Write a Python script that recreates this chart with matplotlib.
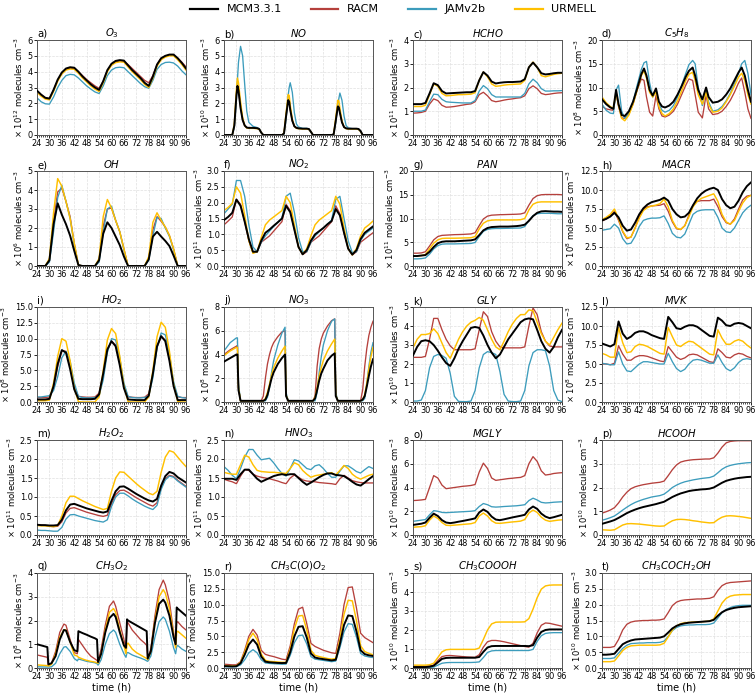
import numpy as np
import matplotlib
matplotlib.use("Agg")
import matplotlib.pyplot as plt
from matplotlib.ticker import MultipleLocator
from matplotlib.lines import Line2D

# ---------------- time axes ----------------
t2 = list(range(24, 97, 2))
t_NO = [24, 28, 29, 30, 30.5, 31, 32, 33, 34, 35, 36, 38, 40, 41, 42, 43,
        52, 53, 54, 55, 55.5, 56, 57, 58, 59, 60, 62, 64, 65, 66, 67,
        76, 77, 78, 79, 79.5, 80, 81, 82, 83, 84, 86, 88, 89, 90, 91, 96]
t_C5H8 = [24, 26, 28, 29.5, 30.8, 32, 33.5, 35, 37, 39, 41, 43, 44.3, 45.5, 47,
          48.5, 50.1, 51.5, 53, 54.5, 56.5, 58.5, 60.5, 62.5, 64.5, 66, 67.8, 69,
          70.5, 72.5, 74.3, 75.5, 77.5, 80, 82, 84, 86, 88, 90, 91.5, 93, 94.5, 96]
t_NO3 = [24, 27, 30, 30.5, 31, 32, 42, 43, 44, 45, 46, 47, 48, 50, 52, 53.5, 54, 55,
         66, 67, 68, 69, 70, 71, 72, 74, 76, 77.5, 78, 79, 90, 91, 92, 93, 94, 95, 96]
t_CH3O2 = [24, 29, 29.5, 31, 33, 35, 37, 38, 40, 42, 43.5, 44, 46, 48, 50, 52, 53, 53.5,
           55, 57, 59, 61, 62, 64, 66, 67, 67.5, 68, 70, 72, 74, 76, 77, 77.5, 79, 81,
           83, 85, 86, 88, 90, 91, 91.5, 92, 94, 96]

models = ["MCM3.3.1", "RACM", "JAMv2b", "URMELL"]
colors = ["#000000", "#b5403c", "#3c9cbc", "#ffc000"]

# ---------------- a) O3 (1e12) ----------------
O3_MCM = [2.8, 2.55, 2.35, 2.3, 2.85, 3.5, 3.95, 4.2, 4.28, 4.25, 4.0, 3.7,
          3.45, 3.2, 3.0, 2.85, 3.4, 4.1, 4.5, 4.68, 4.73, 4.7, 4.4, 4.1,
          3.85, 3.6, 3.3, 3.1, 3.7, 4.45, 4.85, 5.0, 5.08, 5.08, 4.85, 4.55, 4.2]
O3_RACM = [2.8, 2.55, 2.35, 2.3, 2.85, 3.45, 3.9, 4.15, 4.22, 4.2, 4.0, 3.75,
           3.5, 3.3, 3.1, 2.95, 3.4, 4.05, 4.45, 4.62, 4.68, 4.65, 4.45, 4.2,
           3.95, 3.7, 3.45, 3.3, 3.75, 4.45, 4.85, 4.98, 5.05, 5.05, 4.85, 4.6, 4.3]
O3_JAM = [2.35, 2.1, 1.97, 1.95, 2.4, 3.0, 3.45, 3.75, 3.83, 3.8, 3.6, 3.35,
          3.1, 2.9, 2.72, 2.62, 3.1, 3.75, 4.1, 4.25, 4.28, 4.25, 4.0, 3.75,
          3.5, 3.25, 3.05, 2.95, 3.45, 4.15, 4.45, 4.58, 4.6, 4.55, 4.35, 4.05, 3.8]
O3_URM = [2.7, 2.45, 2.27, 2.22, 2.75, 3.4, 3.85, 4.1, 4.17, 4.15, 3.9, 3.6,
          3.35, 3.1, 2.9, 2.75, 3.3, 4.0, 4.4, 4.57, 4.62, 4.6, 4.3, 4.0,
          3.75, 3.5, 3.2, 3.0, 3.6, 4.35, 4.75, 4.92, 5.0, 5.0, 4.75, 4.45, 4.1]

# ---------------- b) NO (1e10) ----------------
NO_MCM = [0, 0, 0.6, 2.5, 3.1, 2.8, 1.7, 0.95, 0.6, 0.47, 0.45, 0.45, 0.43, 0.38, 0.15, 0,
          0, 0.1, 1.2, 2.2, 2.1, 1.6, 0.9, 0.55, 0.45, 0.42, 0.4, 0.4, 0.38, 0.2, 0,
          0, 0.05, 0.9, 1.8, 1.75, 1.4, 0.8, 0.5, 0.42, 0.4, 0.4, 0.4, 0.38, 0.25, 0, 0]
NO_RACM = [0, 0, 0.55, 2.5, 3.15, 2.85, 1.75, 0.95, 0.6, 0.47, 0.45, 0.45, 0.43, 0.38, 0.15, 0,
           0, 0.1, 1.2, 2.25, 2.15, 1.6, 0.9, 0.55, 0.45, 0.42, 0.4, 0.4, 0.38, 0.2, 0,
           0, 0.05, 0.9, 1.85, 1.8, 1.45, 0.8, 0.5, 0.42, 0.4, 0.4, 0.4, 0.38, 0.25, 0, 0]
NO_JAM = [0, 0, 0.5, 2.2, 3.5, 4.6, 5.6, 5.0, 3.2, 1.5, 0.8, 0.55, 0.47, 0.4, 0.15, 0,
          0, 0.05, 1.0, 2.5, 3.0, 3.3, 2.7, 1.4, 0.7, 0.5, 0.42, 0.42, 0.38, 0.2, 0,
          0, 0.03, 0.8, 1.9, 2.3, 2.65, 2.2, 1.2, 0.6, 0.45, 0.4, 0.4, 0.38, 0.25, 0, 0]
NO_URM = [0, 0, 0.7, 2.9, 3.6, 3.3, 2.1, 1.1, 0.6, 0.45, 0.42, 0.42, 0.4, 0.36, 0.15, 0,
          0, 0.1, 1.4, 2.55, 2.5, 1.9, 1.0, 0.55, 0.42, 0.4, 0.38, 0.38, 0.35, 0.2, 0,
          0, 0.05, 1.1, 2.2, 2.15, 1.7, 0.9, 0.5, 0.4, 0.38, 0.38, 0.38, 0.35, 0.22, 0, 0]

# ---------------- c) HCHO (1e11) ----------------
HCHO_MCM = [1.3, 1.3, 1.3, 1.35, 1.75, 2.18, 2.1, 1.85, 1.75, 1.76, 1.77, 1.78,
            1.79, 1.8, 1.8, 1.85, 2.3, 2.65, 2.5, 2.25, 2.17, 2.2, 2.22, 2.23,
            2.23, 2.24, 2.25, 2.35, 2.85, 3.05, 2.85, 2.6, 2.55, 2.57, 2.6, 2.62, 2.62]
HCHO_RACM = [0.92, 0.93, 0.95, 1.0, 1.3, 1.52, 1.45, 1.25, 1.17, 1.18, 1.2, 1.23,
             1.26, 1.29, 1.31, 1.4, 1.7, 1.8, 1.65, 1.45, 1.4, 1.43, 1.47, 1.5,
             1.52, 1.55, 1.57, 1.65, 1.95, 2.07, 1.95, 1.75, 1.7, 1.72, 1.75, 1.77, 1.78]
HCHO_JAM = [1.0, 1.0, 1.0, 1.05, 1.4, 1.72, 1.7, 1.5, 1.4, 1.38, 1.37, 1.36,
            1.35, 1.35, 1.35, 1.45, 1.85, 2.08, 1.95, 1.7, 1.6, 1.6, 1.6, 1.6,
            1.6, 1.6, 1.6, 1.75, 2.15, 2.35, 2.2, 1.95, 1.85, 1.85, 1.86, 1.86, 1.87]
HCHO_URM = [1.2, 1.2, 1.2, 1.25, 1.7, 2.15, 2.05, 1.75, 1.65, 1.66, 1.68, 1.7,
            1.7, 1.71, 1.72, 1.78, 2.3, 2.65, 2.45, 2.15, 2.05, 2.07, 2.1, 2.12,
            2.13, 2.14, 2.15, 2.3, 2.85, 3.07, 2.85, 2.5, 2.45, 2.5, 2.55, 2.58, 2.6]

# ---------------- d) C5H8 (1e8) ----------------
C5H8_MCM = [7.5, 6.5, 5.8, 5.5, 9.5, 6.5, 4.2, 4.0, 5.0, 7.0, 9.8, 12.8, 14.0, 12.5, 9.5,
            8.3, 9.8, 7.0, 6.0, 5.8, 6.2, 7.0, 8.5, 10.3, 12.3, 13.5, 14.2, 12.5, 9.5, 7.5,
            10.0, 8.0, 6.8, 7.0, 7.5, 8.5, 9.8, 11.5, 13.2, 14.2, 12.5, 9.5, 7.0]
C5H8_RACM = [6.0, 5.5, 5.3, 5.2, 9.0, 6.0, 3.6, 3.5, 4.5, 6.5, 9.5, 11.8, 11.5, 8.0, 4.8,
             4.0, 8.3, 5.5, 4.0, 3.8, 4.2, 5.0, 6.5, 8.5, 10.5, 11.8, 11.5, 8.5, 4.8, 3.6,
             8.5, 5.5, 4.3, 4.5, 5.0, 6.0, 7.3, 9.0, 11.0, 12.0, 9.0, 5.5, 3.5]
C5H8_JAM = [6.5, 5.2, 4.6, 4.5, 9.5, 10.5, 5.0, 3.5, 4.5, 7.0, 10.5, 13.8, 15.2, 15.5, 11.0,
            8.0, 9.6, 6.5, 5.2, 4.8, 5.2, 6.2, 8.0, 10.5, 13.0, 14.8, 15.7, 15.0, 10.0, 6.2,
            9.4, 7.0, 5.0, 5.3, 6.0, 7.2, 8.8, 10.8, 13.0, 15.0, 15.7, 13.0, 8.5]
C5H8_URM = [8.0, 6.8, 6.0, 5.6, 9.0, 6.2, 3.5, 3.0, 4.2, 6.5, 9.5, 12.5, 13.5, 12.0, 9.0,
            8.0, 9.0, 6.0, 4.5, 4.0, 4.5, 5.5, 7.2, 9.3, 11.5, 12.8, 13.2, 11.5, 8.5, 6.5,
            9.0, 6.5, 4.8, 5.0, 5.7, 7.0, 8.5, 10.3, 12.2, 13.0, 11.5, 8.5, 6.5]

# ---------------- e) OH (1e6) ----------------
OH_MCM = [0, 0, 0, 0.3, 2.2, 3.3, 2.7, 2.2, 1.6, 0.8, 0.05, 0,
          0, 0, 0, 0.3, 1.7, 2.3, 2.0, 1.55, 1.1, 0.5, 0, 0,
          0, 0, 0, 0.35, 1.55, 1.8, 1.55, 1.32, 1.05, 0.55, 0, 0, 0]
OH_RACM = [0, 0, 0, 0.3, 2.3, 3.9, 4.1, 3.4, 2.6, 1.2, 0.05, 0,
           0, 0, 0, 0.3, 2.1, 3.0, 3.05, 2.4, 1.8, 0.9, 0, 0,
           0, 0, 0, 0.4, 1.9, 2.6, 2.35, 2.05, 1.6, 0.9, 0, 0, 0]
OH_JAM = [0, 0, 0, 0.2, 1.8, 3.6, 4.25, 3.4, 2.5, 1.1, 0.05, 0,
          0, 0, 0, 0.2, 1.8, 3.0, 3.15, 2.4, 1.8, 0.85, 0, 0,
          0, 0, 0, 0.3, 1.6, 2.55, 2.5, 2.0, 1.55, 0.85, 0, 0, 0]
OH_URM = [0, 0, 0, 0.4, 2.8, 4.6, 4.2, 3.4, 2.5, 1.2, 0.05, 0,
          0, 0, 0, 0.4, 2.6, 3.5, 3.05, 2.4, 1.8, 0.9, 0, 0,
          0, 0, 0, 0.5, 2.3, 2.8, 2.4, 2.05, 1.6, 0.9, 0, 0, 0]

# ---------------- f) NO2 (1e11) ----------------
NO2_MCM = [1.45, 1.55, 1.68, 2.1, 1.9, 1.4, 0.85, 0.45, 0.45, 0.8, 1.05, 1.15,
           1.27, 1.38, 1.5, 1.9, 1.7, 1.15, 0.6, 0.37, 0.5, 0.8, 1.0, 1.1,
           1.2, 1.32, 1.42, 1.8, 1.6, 1.05, 0.55, 0.36, 0.5, 0.85, 1.05, 1.15, 1.25]
NO2_RACM = [1.3, 1.42, 1.55, 2.1, 1.95, 1.4, 0.8, 0.42, 0.45, 0.75, 0.85, 0.95,
            1.1, 1.25, 1.4, 1.95, 1.75, 1.15, 0.6, 0.36, 0.45, 0.75, 0.85, 0.95,
            1.1, 1.25, 1.4, 1.9, 1.65, 1.05, 0.55, 0.35, 0.45, 0.75, 0.85, 0.95, 1.05]
NO2_JAM = [1.65, 1.8, 1.95, 2.7, 2.7, 2.2, 1.3, 0.6, 0.45, 0.75, 0.95, 1.1,
           1.25, 1.38, 1.5, 2.2, 2.3, 1.7, 0.9, 0.45, 0.45, 0.75, 0.95, 1.08,
           1.2, 1.32, 1.45, 2.1, 2.2, 1.5, 0.8, 0.42, 0.45, 0.8, 1.0, 1.1, 1.2]
NO2_URM = [1.75, 1.85, 1.98, 2.5, 2.3, 1.6, 0.8, 0.4, 0.45, 0.9, 1.3, 1.45,
           1.55, 1.65, 1.75, 2.2, 2.0, 1.3, 0.6, 0.37, 0.55, 0.95, 1.3, 1.45,
           1.55, 1.65, 1.75, 2.2, 1.95, 1.2, 0.55, 0.35, 0.55, 0.95, 1.2, 1.3, 1.42]

# ---------------- g) PAN (1e11) ----------------
PAN_MCM = [2.1, 2.1, 2.2, 2.3, 3.0, 4.0, 4.8, 5.1, 5.2, 5.2, 5.2, 5.25,
           5.3, 5.35, 5.4, 5.6, 6.5, 7.5, 8.0, 8.2, 8.25, 8.3, 8.3, 8.3,
           8.35, 8.4, 8.5, 8.7, 9.5, 10.5, 11.2, 11.5, 11.55, 11.5, 11.45, 11.45, 11.4]
PAN_RACM = [2.7, 2.7, 2.75, 3.0, 4.2, 5.5, 6.2, 6.45, 6.5, 6.55, 6.6, 6.62,
            6.65, 6.7, 6.75, 7.0, 8.5, 9.9, 10.5, 10.7, 10.75, 10.8, 10.82, 10.85,
            10.87, 10.9, 10.95, 11.2, 12.8, 14.2, 14.8, 15.0, 15.05, 15.05, 15.05, 15.05, 15.0]
PAN_JAM = [1.5, 1.5, 1.55, 1.7, 2.5, 3.6, 4.3, 4.6, 4.65, 4.65, 4.65, 4.68,
           4.7, 4.72, 4.75, 4.95, 6.2, 7.3, 7.7, 7.85, 7.9, 7.9, 7.92, 7.94,
           7.96, 7.98, 8.0, 8.3, 9.6, 10.6, 11.0, 11.1, 11.1, 11.1, 11.05, 11.0, 11.0]
PAN_URM = [2.1, 2.1, 2.2, 2.4, 3.6, 4.8, 5.5, 5.8, 5.85, 5.85, 5.85, 5.87,
           5.9, 5.92, 5.95, 6.2, 7.8, 9.0, 9.5, 9.65, 9.7, 9.7, 9.7, 9.7,
           9.7, 9.7, 9.75, 10.0, 11.8, 13.0, 13.4, 13.5, 13.5, 13.5, 13.5, 13.5, 13.5]

# ---------------- h) MACR (1e8) ----------------
MACR_MCM = [6.0, 6.2, 6.5, 7.0, 6.4, 5.3, 4.65, 4.8, 5.7, 6.8, 7.6, 8.1,
            8.4, 8.55, 8.7, 9.0, 8.6, 7.5, 6.8, 6.4, 6.5, 7.0, 8.0, 8.9,
            9.5, 9.9, 10.15, 10.3, 10.0, 8.8, 8.0, 7.6, 7.8, 8.6, 9.7, 10.5, 11.0]
MACR_RACM = [5.9, 6.2, 6.6, 7.2, 6.0, 4.5, 3.6, 3.8, 5.0, 6.5, 7.5, 7.8,
             7.9, 7.95, 8.0, 8.2, 7.2, 5.8, 4.9, 4.8, 5.3, 6.7, 8.0, 8.5,
             8.6, 8.6, 8.6, 8.8, 7.8, 6.5, 5.7, 5.5, 6.2, 7.5, 8.7, 9.2, 9.3]
MACR_JAM = [4.7, 4.8, 4.9, 5.5, 5.0, 3.6, 2.9, 3.0, 3.9, 5.2, 6.0, 6.2,
            6.3, 6.3, 6.35, 6.6, 5.6, 4.3, 3.8, 3.7, 4.2, 5.5, 6.8, 7.2,
            7.35, 7.4, 7.4, 7.4, 6.4, 5.0, 4.5, 4.4, 5.0, 6.0, 7.0, 7.6, 8.0]
MACR_URM = [6.1, 6.4, 6.8, 7.5, 6.2, 4.6, 3.7, 3.8, 5.0, 6.3, 7.3, 7.7,
            7.9, 8.0, 8.2, 8.8, 7.8, 6.0, 5.0, 4.8, 5.3, 6.5, 7.8, 8.5,
            8.9, 9.1, 9.3, 9.5, 8.5, 6.8, 5.8, 5.5, 6.0, 7.2, 8.3, 9.0, 9.3]

# ---------------- i) HO2 (1e8) ----------------
HO2_MCM = [0.4, 0.4, 0.4, 0.5, 2.5, 6.0, 8.2, 7.8, 5.2, 2.0, 0.5, 0.45,
           0.45, 0.45, 0.5, 1.2, 4.5, 8.3, 9.6, 8.8, 5.8, 2.2, 0.4, 0.35,
           0.3, 0.3, 0.3, 1.0, 4.5, 8.8, 10.4, 9.6, 6.5, 2.5, 0.3, 0.3, 0.3]
HO2_RACM = [0.7, 0.7, 0.7, 0.8, 2.2, 5.6, 8.1, 8.0, 5.6, 2.4, 0.9, 0.8,
            0.75, 0.75, 0.8, 1.4, 4.3, 8.2, 9.6, 9.0, 6.2, 2.6, 0.8, 0.75,
            0.7, 0.7, 0.75, 1.3, 4.4, 8.7, 10.3, 9.8, 6.8, 2.8, 0.8, 0.7, 0.7]
HO2_JAM = [0.8, 0.8, 0.9, 1.0, 1.8, 4.0, 7.0, 8.0, 6.5, 3.0, 0.9, 0.7,
           0.65, 0.65, 0.7, 1.0, 3.5, 7.8, 10.0, 9.8, 7.0, 3.0, 0.9, 0.7,
           0.65, 0.65, 0.7, 1.0, 3.8, 8.5, 10.9, 10.6, 7.6, 3.2, 0.9, 0.7, 0.6]
HO2_URM = [0.2, 0.2, 0.2, 0.3, 3.0, 7.2, 10.0, 9.6, 6.5, 2.2, 0.05, 0,
           0, 0, 0, 0.8, 5.0, 9.8, 11.6, 10.8, 7.2, 2.5, 0.05, 0,
           0, 0, 0, 0.8, 5.0, 10.3, 12.6, 11.8, 8.0, 2.8, 0.05, 0, 0]

# ---------------- j) NO3 (1e8) ----------------
NO3_MCM = [3.4, 3.7, 4.0, 4.0, 1.0, 0.1, 0.1, 0.1, 0.2, 0.6, 1.3, 2.0,
           2.5, 3.2, 3.7, 4.0, 0.5, 0.1, 0.1, 0.1, 0.3, 1.0, 1.8, 2.4,
           2.8, 3.5, 3.9, 4.1, 0.5, 0.1, 0.1, 0.2, 0.5, 1.3, 2.2, 3.0, 3.6]
NO3_RACM = [4.0, 4.4, 4.7, 4.75, 1.2, 0.1, 0.1, 0.5, 2.0, 3.2, 4.0, 4.6,
            5.0, 5.5, 5.9, 6.0, 0.6, 0.1, 0.1, 0.1, 0.5, 3.0, 4.5, 5.3,
            5.8, 6.4, 6.85, 7.0, 0.6, 0.1, 0.1, 1.0, 3.0, 4.5, 5.6, 6.3, 6.8]
NO3_JAM = [4.3, 5.0, 5.4, 5.4, 1.5, 0.1, 0.1, 0.1, 0.1, 0.4, 1.2, 2.5,
           3.5, 4.8, 5.8, 6.3, 0.8, 0.1, 0.1, 0.1, 0.1, 0.8, 2.5, 3.8,
           4.8, 6.0, 6.8, 7.0, 0.8, 0.1, 0.1, 0.1, 0.3, 1.5, 3.0, 4.2, 5.0]
NO3_URM = [3.9, 4.3, 4.6, 4.6, 1.2, 0.1, 0.1, 0.1, 0.3, 0.8, 1.5, 2.3,
           2.9, 3.7, 4.3, 4.7, 0.6, 0.1, 0.1, 0.1, 0.4, 1.2, 2.2, 2.9,
           3.5, 4.3, 4.9, 5.3, 0.6, 0.1, 0.1, 0.2, 0.6, 1.6, 2.8, 3.8, 4.6]

# ---------------- k) GLY (1e10) ----------------
GLY_MCM = [2.45, 2.9, 3.2, 3.25, 3.2, 3.0, 2.7, 2.35, 2.05, 1.9, 2.3, 2.8,
           3.2, 3.55, 3.9, 3.95, 3.9, 3.5, 3.0, 2.6, 2.3, 2.5, 2.9, 3.3,
           3.6, 3.9, 4.2, 4.35, 4.4, 4.35, 3.8, 3.2, 2.8, 2.6, 2.9, 3.4, 3.8]
GLY_RACM = [2.35, 2.35, 2.35, 2.4, 3.3, 4.4, 4.4, 3.8, 3.3, 2.95, 2.75, 2.75,
            2.75, 2.75, 2.75, 2.8, 3.8, 4.75, 4.5, 3.7, 3.2, 2.9, 2.85, 2.85,
            2.85, 2.85, 2.85, 2.9, 4.0, 4.95, 4.6, 3.7, 3.2, 2.95, 2.9, 2.9, 2.9]
GLY_JAM = [0.05, 0.05, 0.1, 0.6, 1.8, 2.4, 2.5, 2.45, 2.3, 1.5, 0.3, 0.03,
           0.02, 0.02, 0.05, 0.6, 1.8, 2.5, 2.65, 2.6, 2.5, 1.6, 0.4, 0.05,
           0.02, 0.02, 0.05, 0.6, 1.9, 2.6, 2.75, 2.75, 2.7, 1.9, 0.6, 0.1, 0.02]
GLY_URM = [2.85, 3.3, 3.55, 3.55, 3.6, 3.85, 3.6, 3.1, 2.6, 2.3, 2.8, 3.3,
           3.7, 4.0, 4.2, 4.3, 4.45, 4.3, 3.8, 3.3, 2.9, 2.75, 3.2, 3.7,
           4.1, 4.4, 4.6, 4.6, 4.85, 4.8, 4.2, 3.6, 3.2, 3.0, 3.4, 3.8, 4.15]

# ---------------- l) MVK (1e8) ----------------
MVK_MCM = [7.7, 7.5, 7.3, 7.6, 10.6, 9.0, 8.3, 8.6, 9.1, 9.3, 9.3, 9.1,
           8.8, 8.6, 8.4, 8.3, 11.2, 10.5, 9.7, 9.6, 9.9, 10.1, 10.1, 9.9,
           9.5, 9.1, 8.7, 8.6, 11.1, 10.7, 10.1, 10.0, 10.3, 10.4, 10.3, 10.0, 9.7]
MVK_RACM = [5.0, 5.0, 4.9, 5.1, 7.4, 6.3, 5.5, 5.5, 5.9, 6.1, 6.1, 6.0,
            5.8, 5.6, 5.4, 5.3, 7.3, 6.6, 5.9, 5.6, 5.8, 6.2, 6.3, 6.2,
            5.9, 5.6, 5.3, 5.2, 7.0, 6.5, 5.9, 5.8, 6.2, 6.4, 6.3, 6.0, 5.8]
MVK_JAM = [5.1, 5.0, 4.9, 4.9, 6.6, 5.0, 4.1, 4.0, 4.5, 5.0, 5.3, 5.3,
           5.2, 5.1, 5.0, 5.0, 6.4, 5.3, 4.4, 4.0, 4.3, 5.0, 5.5, 5.6,
           5.5, 5.3, 5.1, 5.1, 6.2, 5.2, 4.4, 4.1, 4.5, 5.2, 5.6, 5.7, 5.6]
MVK_URM = [6.4, 6.2, 5.9, 5.9, 9.8, 7.8, 6.5, 6.6, 7.3, 7.6, 7.5, 7.3,
           7.0, 6.7, 6.4, 6.3, 9.8, 8.6, 7.5, 7.3, 7.7, 8.0, 7.9, 7.5,
           7.1, 6.7, 6.3, 6.2, 9.5, 8.4, 7.6, 7.6, 8.0, 8.2, 8.0, 7.5, 7.1]

# ---------------- m) H2O2 (1e11) ----------------
H2O2_MCM = [0.27, 0.26, 0.26, 0.25, 0.25, 0.26, 0.4, 0.65, 0.8, 0.82, 0.78, 0.74,
            0.7, 0.67, 0.64, 0.61, 0.59, 0.62, 0.9, 1.15, 1.27, 1.28, 1.22, 1.15,
            1.08, 1.02, 0.96, 0.91, 0.88, 0.95, 1.3, 1.55, 1.66, 1.62, 1.52, 1.45, 1.38]
H2O2_RACM = [0.27, 0.26, 0.25, 0.23, 0.22, 0.23, 0.35, 0.58, 0.7, 0.72, 0.68, 0.64,
             0.6, 0.57, 0.54, 0.51, 0.49, 0.52, 0.82, 1.06, 1.17, 1.18, 1.12, 1.05,
             0.98, 0.92, 0.86, 0.8, 0.76, 0.85, 1.25, 1.48, 1.57, 1.54, 1.44, 1.36, 1.28]
H2O2_JAM = [0.13, 0.12, 0.12, 0.11, 0.1, 0.1, 0.2, 0.42, 0.53, 0.54, 0.5, 0.47,
            0.44, 0.41, 0.38, 0.36, 0.34, 0.4, 0.75, 1.0, 1.1, 1.1, 1.03, 0.95,
            0.88, 0.82, 0.76, 0.71, 0.67, 0.78, 1.2, 1.45, 1.55, 1.52, 1.42, 1.34, 1.26]
H2O2_URM = [0.25, 0.24, 0.24, 0.23, 0.22, 0.25, 0.5, 0.85, 1.02, 1.02, 0.96, 0.9,
            0.85, 0.8, 0.75, 0.71, 0.67, 0.7, 1.15, 1.5, 1.66, 1.65, 1.55, 1.45,
            1.35, 1.26, 1.18, 1.1, 1.06, 1.15, 1.65, 2.05, 2.22, 2.18, 2.05, 1.92, 1.8]

# ---------------- n) HNO3 (1e11) ----------------
HNO3_MCM = [1.48, 1.48, 1.48, 1.45, 1.6, 1.72, 1.72, 1.6, 1.48, 1.4, 1.45, 1.5,
            1.55, 1.58, 1.6, 1.58, 1.6, 1.6, 1.5, 1.4, 1.32, 1.38, 1.45, 1.52,
            1.58, 1.62, 1.62, 1.58, 1.57, 1.55, 1.48, 1.4, 1.33, 1.3, 1.38, 1.47, 1.55]
HNO3_RACM = [1.47, 1.43, 1.4, 1.35, 1.55, 1.72, 1.7, 1.6, 1.55, 1.52, 1.5, 1.48,
             1.45, 1.42, 1.38, 1.35, 1.5, 1.58, 1.52, 1.45, 1.42, 1.41, 1.4, 1.38,
             1.37, 1.36, 1.35, 1.33, 1.48, 1.57, 1.5, 1.43, 1.4, 1.38, 1.37, 1.37, 1.37]
HNO3_JAM = [1.8, 1.7, 1.57, 1.48, 1.75, 2.05, 2.25, 2.25, 2.1, 1.98, 2.0, 2.02,
            1.9, 1.75, 1.62, 1.55, 1.75, 1.98, 1.95, 1.85, 1.75, 1.72, 1.82, 1.85,
            1.75, 1.62, 1.52, 1.52, 1.68, 1.82, 1.82, 1.75, 1.67, 1.63, 1.72, 1.8, 1.75]
HNO3_URM = [1.65, 1.62, 1.6, 1.6, 1.85, 2.1, 2.05, 1.85, 1.7, 1.67, 1.66, 1.65,
            1.65, 1.64, 1.63, 1.62, 1.75, 1.9, 1.85, 1.7, 1.6, 1.52, 1.56, 1.58,
            1.6, 1.62, 1.64, 1.58, 1.7, 1.83, 1.75, 1.6, 1.52, 1.47, 1.52, 1.57, 1.6]

# ---------------- o) MGLY (1e10) ----------------
MGLY_MCM = [0.85, 0.9, 0.95, 1.05, 1.45, 1.8, 1.6, 1.25, 1.05, 1.0, 1.05, 1.12,
            1.18, 1.25, 1.32, 1.4, 1.9, 2.15, 1.95, 1.55, 1.3, 1.25, 1.32, 1.4,
            1.48, 1.55, 1.62, 1.7, 2.15, 2.4, 2.2, 1.8, 1.55, 1.42, 1.5, 1.6, 1.7]
MGLY_RACM = [2.9, 2.92, 2.95, 3.0, 4.0, 5.0, 4.8, 4.2, 3.9, 3.95, 4.0, 4.05,
             4.1, 4.13, 4.17, 4.25, 5.3, 6.05, 5.6, 4.8, 4.6, 4.65, 4.7, 4.75,
             4.78, 4.82, 4.85, 5.0, 6.0, 6.6, 6.2, 5.4, 5.05, 5.1, 5.18, 5.22, 5.25]
MGLY_JAM = [1.15, 1.2, 1.25, 1.3, 1.7, 2.05, 2.0, 1.9, 1.88, 1.9, 1.92, 1.94,
            1.96, 1.98, 2.0, 2.05, 2.4, 2.65, 2.55, 2.38, 2.35, 2.37, 2.4, 2.42,
            2.44, 2.46, 2.5, 2.55, 2.9, 3.1, 2.95, 2.75, 2.7, 2.72, 2.76, 2.78, 2.8]
MGLY_URM = [0.65, 0.68, 0.7, 0.78, 1.25, 1.6, 1.4, 1.05, 0.82, 0.8, 0.83, 0.86,
            0.89, 0.92, 0.95, 1.05, 1.6, 1.85, 1.6, 1.2, 1.0, 0.98, 1.02, 1.06,
            1.1, 1.13, 1.17, 1.3, 1.85, 2.1, 1.9, 1.5, 1.25, 1.15, 1.2, 1.25, 1.28]

# ---------------- p) HCOOH (1e10) ----------------
HCOOH_MCM = [0.47, 0.52, 0.57, 0.63, 0.72, 0.82, 0.92, 1.0, 1.07, 1.13, 1.18, 1.22,
             1.26, 1.3, 1.35, 1.4, 1.5, 1.6, 1.68, 1.75, 1.8, 1.85, 1.88, 1.9,
             1.92, 1.93, 1.95, 2.0, 2.1, 2.2, 2.28, 2.33, 2.37, 2.4, 2.42, 2.44, 2.45]
HCOOH_RACM = [0.92, 0.98, 1.05, 1.15, 1.35, 1.6, 1.8, 1.95, 2.03, 2.08, 2.12, 2.15,
              2.18, 2.2, 2.22, 2.27, 2.5, 2.75, 2.95, 3.07, 3.12, 3.15, 3.17, 3.18,
              3.19, 3.2, 3.2, 3.25, 3.45, 3.7, 3.88, 3.94, 3.96, 3.97, 3.97, 3.97, 3.97]
HCOOH_JAM = [0.62, 0.67, 0.73, 0.8, 0.92, 1.05, 1.17, 1.28, 1.37, 1.44, 1.5, 1.55,
             1.6, 1.63, 1.66, 1.72, 1.85, 2.0, 2.1, 2.18, 2.24, 2.28, 2.32, 2.35,
             2.38, 2.4, 2.42, 2.48, 2.62, 2.77, 2.87, 2.93, 2.97, 3.0, 3.02, 3.04, 3.05]
HCOOH_URM = [0.22, 0.21, 0.2, 0.22, 0.32, 0.42, 0.47, 0.48, 0.47, 0.46, 0.44, 0.42,
             0.4, 0.38, 0.37, 0.38, 0.5, 0.6, 0.65, 0.66, 0.65, 0.63, 0.6, 0.58,
             0.55, 0.53, 0.51, 0.52, 0.65, 0.75, 0.8, 0.81, 0.8, 0.78, 0.76, 0.73, 0.7]

# ---------------- q) CH3O2 (1e8) ----------------
CH3O2_MCM = [1.0, 0.88, 0.15, 0.2, 0.5, 1.2, 1.6, 1.58, 1.1, 0.75, 0.7, 1.55, 1.47, 1.4, 1.32,
             1.25, 1.2, 0.25, 0.6, 1.5, 2.1, 2.28, 2.15, 1.5, 0.95, 0.85, 2.05, 2.0, 1.9, 1.8,
             1.7, 1.6, 1.55, 0.4, 0.7, 1.9, 2.7, 2.88, 2.75, 2.2, 1.3, 1.0, 2.55, 2.5, 2.35, 2.2]
CH3O2_RACM = [0.55, 0.45, 0.12, 0.2, 0.7, 1.5, 1.85, 1.8, 1.2, 0.65, 0.6, 1.2, 0.95, 0.7, 0.5,
              0.38, 0.32, 0.25, 0.8, 1.8, 2.6, 2.82, 2.6, 1.9, 1.2, 0.8, 1.95, 1.9, 1.6, 1.4,
              1.2, 1.05, 0.95, 0.4, 0.8, 2.2, 3.3, 3.7, 3.5, 2.8, 1.5, 0.9, 1.9, 1.95, 1.75, 1.6]
CH3O2_JAM = [0.05, 0.04, 0.04, 0.05, 0.2, 0.6, 0.88, 0.9, 0.7, 0.4, 0.3, 0.38, 0.33, 0.28, 0.25,
             0.22, 0.18, 0.12, 0.35, 1.0, 1.45, 1.6, 1.5, 1.0, 0.6, 0.45, 0.65, 0.65, 0.55, 0.48,
             0.42, 0.35, 0.3, 0.28, 0.5, 1.3, 1.95, 2.15, 2.05, 1.55, 0.85, 0.6, 0.9, 0.95, 0.8, 0.7]
CH3O2_URM = [0.13, 0.1, 0.08, 0.15, 0.6, 1.3, 1.6, 1.6, 1.1, 0.55, 0.5, 0.45, 0.38, 0.32, 0.28,
             0.25, 0.22, 0.2, 0.6, 1.6, 2.35, 2.5, 2.35, 1.6, 0.95, 0.6, 1.0, 1.05, 0.8, 0.65,
             0.55, 0.45, 0.4, 0.35, 0.7, 2.0, 3.0, 3.3, 3.15, 2.5, 1.4, 0.85, 1.5, 1.55, 1.4, 1.25]

# ---------------- r) CH3C(O)O2 (1e7) ----------------
ACO3_MCM = [0.3, 0.28, 0.25, 0.28, 0.75, 2.1, 3.7, 4.5, 3.7, 1.8, 1.0, 0.9,
            0.85, 0.8, 0.78, 0.8, 2.5, 5.0, 6.5, 6.6, 4.8, 2.3, 1.65, 1.5,
            1.4, 1.3, 1.2, 1.3, 3.8, 6.8, 8.3, 8.2, 5.8, 2.8, 2.2, 2.0, 1.9]
ACO3_RACM = [0.6, 0.55, 0.5, 0.5, 1.0, 2.8, 5.0, 6.1, 5.2, 2.8, 2.15, 1.95,
             1.8, 1.6, 1.4, 1.3, 3.5, 7.0, 9.3, 9.6, 7.0, 3.9, 3.4, 3.1,
             2.8, 2.6, 2.4, 2.3, 5.5, 10.0, 12.7, 12.8, 9.5, 5.5, 4.8, 4.4, 4.0]
ACO3_JAM = [0.2, 0.18, 0.17, 0.2, 0.5, 1.3, 2.4, 2.9, 2.4, 1.3, 0.8, 0.72,
            0.68, 0.64, 0.6, 0.62, 2.0, 4.0, 5.1, 5.2, 3.8, 1.8, 1.4, 1.3,
            1.2, 1.1, 1.0, 1.1, 3.2, 5.7, 7.0, 6.9, 4.9, 2.3, 1.9, 1.75, 1.65]
ACO3_URM = [0.4, 0.35, 0.33, 0.35, 0.9, 2.5, 4.5, 5.5, 4.5, 2.2, 1.2, 1.05,
            1.0, 0.95, 0.9, 0.9, 3.0, 6.2, 8.2, 8.3, 6.0, 2.8, 2.0, 1.8,
            1.65, 1.5, 1.4, 1.5, 4.5, 8.5, 10.7, 10.6, 7.5, 3.5, 2.6, 2.3, 2.1]

# ---------------- s) CH3COOOH (1e10) ----------------
PAA_MCM = [0.05, 0.05, 0.05, 0.05, 0.07, 0.12, 0.3, 0.48, 0.53, 0.54, 0.54, 0.54,
           0.54, 0.54, 0.54, 0.54, 0.58, 0.85, 1.08, 1.15, 1.16, 1.16, 1.16, 1.16,
           1.16, 1.16, 1.16, 1.16, 1.15, 1.2, 1.6, 1.9, 2.0, 2.03, 2.03, 2.03, 2.03]
PAA_RACM = [0.08, 0.08, 0.08, 0.08, 0.1, 0.15, 0.4, 0.6, 0.65, 0.66, 0.64, 0.62,
            0.6, 0.58, 0.57, 0.56, 0.7, 1.1, 1.38, 1.45, 1.45, 1.42, 1.38, 1.33,
            1.28, 1.23, 1.18, 1.13, 1.1, 1.3, 1.85, 2.25, 2.37, 2.35, 2.3, 2.25, 2.2]
PAA_JAM = [0.02, 0.02, 0.02, 0.02, 0.03, 0.05, 0.15, 0.25, 0.28, 0.29, 0.29, 0.29,
           0.29, 0.29, 0.29, 0.3, 0.32, 0.55, 0.82, 0.9, 0.92, 0.92, 0.92, 0.92,
           0.92, 0.92, 0.92, 0.92, 0.92, 0.98, 1.4, 1.7, 1.82, 1.85, 1.86, 1.86, 1.86]
PAA_URM = [0.15, 0.15, 0.15, 0.15, 0.17, 0.25, 0.55, 0.85, 0.96, 0.98, 0.98, 0.98,
           0.98, 0.98, 0.98, 0.98, 1.05, 1.5, 2.0, 2.32, 2.41, 2.42, 2.42, 2.42,
           2.42, 2.42, 2.42, 2.43, 2.6, 3.1, 3.7, 4.15, 4.32, 4.36, 4.37, 4.37, 4.37]

# ---------------- t) CH3COCH2OH (1e10) ----------------
HYAC_MCM = [0.42, 0.42, 0.43, 0.45, 0.6, 0.75, 0.82, 0.87, 0.9, 0.91, 0.92, 0.93,
            0.94, 0.95, 0.96, 1.0, 1.12, 1.25, 1.33, 1.38, 1.41, 1.43, 1.44, 1.45,
            1.46, 1.47, 1.48, 1.52, 1.65, 1.76, 1.83, 1.87, 1.9, 1.92, 1.93, 1.94, 1.95]
HYAC_RACM = [0.65, 0.65, 0.65, 0.68, 0.9, 1.2, 1.38, 1.45, 1.48, 1.49, 1.5, 1.5,
             1.51, 1.51, 1.52, 1.55, 1.75, 1.97, 2.08, 2.13, 2.15, 2.16, 2.17, 2.18,
             2.18, 2.19, 2.2, 2.25, 2.45, 2.6, 2.67, 2.7, 2.71, 2.72, 2.73, 2.74, 2.75]
HYAC_JAM = [0.3, 0.3, 0.3, 0.32, 0.47, 0.62, 0.72, 0.77, 0.78, 0.79, 0.79, 0.8,
            0.8, 0.8, 0.81, 0.85, 1.0, 1.18, 1.28, 1.33, 1.35, 1.36, 1.36, 1.37,
            1.37, 1.37, 1.38, 1.42, 1.58, 1.75, 1.85, 1.91, 1.95, 1.97, 1.98, 1.98, 1.98]
HYAC_URM = [0.2, 0.2, 0.2, 0.22, 0.38, 0.55, 0.65, 0.7, 0.71, 0.72, 0.72, 0.72,
            0.72, 0.72, 0.73, 0.78, 0.98, 1.2, 1.33, 1.4, 1.43, 1.44, 1.45, 1.46,
            1.46, 1.47, 1.48, 1.55, 1.8, 2.05, 2.2, 2.27, 2.3, 2.31, 2.32, 2.32, 2.32]

# ---------------- panel table ----------------
panels = [
    ("a)", "$O_3$", 12, 6, 1, t2, [O3_MCM, O3_RACM, O3_JAM, O3_URM]),
    ("b)", "$NO$", 10, 6, 1, t_NO, [NO_MCM, NO_RACM, NO_JAM, NO_URM]),
    ("c)", "$HCHO$", 11, 4, 1, t2, [HCHO_MCM, HCHO_RACM, HCHO_JAM, HCHO_URM]),
    ("d)", "$C_5H_8$", 8, 20, 5, t_C5H8, [C5H8_MCM, C5H8_RACM, C5H8_JAM, C5H8_URM]),
    ("e)", "$OH$", 6, 5, 1, t2, [OH_MCM, OH_RACM, OH_JAM, OH_URM]),
    ("f)", "$NO_2$", 11, 3, 0.5, t2, [NO2_MCM, NO2_RACM, NO2_JAM, NO2_URM]),
    ("g)", "$PAN$", 11, 20, 5, t2, [PAN_MCM, PAN_RACM, PAN_JAM, PAN_URM]),
    ("h)", "$MACR$", 8, 12.5, 2.5, t2, [MACR_MCM, MACR_RACM, MACR_JAM, MACR_URM]),
    ("i)", "$HO_2$", 8, 15, 2.5, t2, [HO2_MCM, HO2_RACM, HO2_JAM, HO2_URM]),
    ("j)", "$NO_3$", 8, 8, 2, t_NO3, [NO3_MCM, NO3_RACM, NO3_JAM, NO3_URM]),
    ("k)", "$GLY$", 10, 5, 1, t2, [GLY_MCM, GLY_RACM, GLY_JAM, GLY_URM]),
    ("l)", "$MVK$", 8, 12.5, 2.5, t2, [MVK_MCM, MVK_RACM, MVK_JAM, MVK_URM]),
    ("m)", "$H_2O_2$", 11, 2.5, 0.5, t2, [H2O2_MCM, H2O2_RACM, H2O2_JAM, H2O2_URM]),
    ("n)", "$HNO_3$", 11, 2.5, 0.5, t2, [HNO3_MCM, HNO3_RACM, HNO3_JAM, HNO3_URM]),
    ("o)", "$MGLY$", 10, 8, 2, t2, [MGLY_MCM, MGLY_RACM, MGLY_JAM, MGLY_URM]),
    ("p)", "$HCOOH$", 10, 4, 1, t2, [HCOOH_MCM, HCOOH_RACM, HCOOH_JAM, HCOOH_URM]),
    ("q)", "$CH_3O_2$", 8, 4, 1, t_CH3O2, [CH3O2_MCM, CH3O2_RACM, CH3O2_JAM, CH3O2_URM]),
    ("r)", "$CH_3C(O)O_2$", 7, 15, 2.5, t2, [ACO3_MCM, ACO3_RACM, ACO3_JAM, ACO3_URM]),
    ("s)", "$CH_3COOOH$", 10, 5, 1, t2, [PAA_MCM, PAA_RACM, PAA_JAM, PAA_URM]),
    ("t)", "$CH_3COCH_2OH$", 10, 3, 0.5, t2, [HYAC_MCM, HYAC_RACM, HYAC_JAM, HYAC_URM]),
]

W, H = 756, 695
fig = plt.figure(figsize=(W / 100, H / 100), dpi=100)

col_left = [37, 224, 413, 602]
row_top = [40, 171, 307, 440, 573]
ax_w, ax_h = 149, 95

draw_order = [1, 2, 3, 0]
widths = [1.4, 0.95, 0.95, 1.05]

for idx, (lab, name, exp, ymax, ystep, tt, series) in enumerate(panels):
    r, c = divmod(idx, 4)
    x0 = col_left[c] / W
    y0 = 1 - (row_top[r] + ax_h) / H
    ax = fig.add_axes([x0, y0, ax_w / W, ax_h / H])
    for k in draw_order:
        ax.plot(tt, series[k], color=colors[k], lw=widths[k], zorder=3 if k == 0 else 2)
    ax.set_xlim(24, 96)
    ax.set_ylim(0, ymax)
    ax.xaxis.set_major_locator(MultipleLocator(6))
    ax.xaxis.set_minor_locator(MultipleLocator(1))
    ax.yaxis.set_major_locator(MultipleLocator(ystep))
    ax.tick_params(axis="both", which="major", labelsize=5.9, length=2, width=0.6, pad=1.2)
    ax.tick_params(axis="x", which="minor", length=1.2, width=0.5)
    ax.grid(True, which="major", color="#e0e0e0", lw=0.5, ls="--")
    for sp in ax.spines.values():
        sp.set_color("#555555")
        sp.set_linewidth(0.7)
    ax.set_ylabel(r"$\times$ 10$^{%d}$ molecules cm$^{-3}$" % exp, fontsize=6.1, labelpad=1.5)
    ax.set_title(name, fontsize=7.3, pad=2)
    ax.set_title(lab, loc="left", fontsize=7.3, pad=2)
    if r == 4:
        ax.set_xlabel("time (h)", fontsize=7, labelpad=1)

handles = [Line2D([0], [0], color=colors[k], lw=1.6) for k in range(4)]
fig.legend(handles, models, loc="upper center", bbox_to_anchor=(0.52, 1.008), ncol=4,
           frameon=False, fontsize=8, handlelength=2.5, columnspacing=2.6, handletextpad=0.8)

fig.savefig("out.png", dpi=100)
